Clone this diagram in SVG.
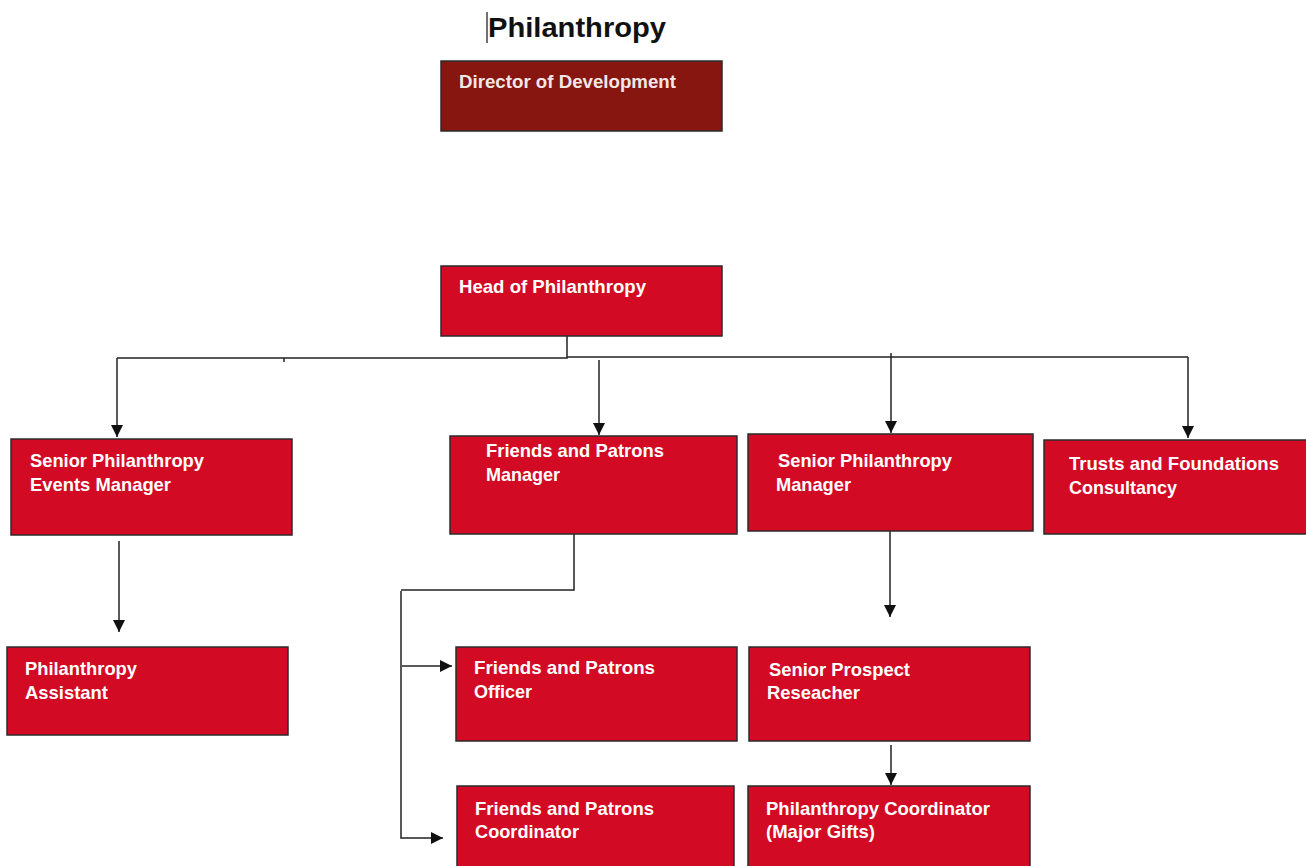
<svg xmlns="http://www.w3.org/2000/svg" width="1306" height="866" viewBox="0 0 1306 866">
  <style>
    .box { fill: #d30a24; stroke: #2b2b2b; stroke-width: 1.5; }
    .dir { fill: #86160f; stroke: #2b2b2b; stroke-width: 1.5; }
    .lbl { font-family: "Liberation Sans", Arial, sans-serif; font-weight: bold; font-size: 19px; fill: #ffffff; }
    .title { font-family: "Liberation Sans", Arial, sans-serif; font-weight: bold; font-size: 28px; fill: #111111; }
    .wire { fill: none; stroke: #222222; stroke-width: 1.5; }
  </style>
  <defs>
    <marker id="arrow" viewBox="0 0 10 10" refX="10" refY="5" markerWidth="8" markerHeight="8" markerUnits="userSpaceOnUse" orient="auto">
      <path d="M0,0 L10,5 L0,10 Z" fill="#111111"/>
    </marker>
    <marker id="arrowL" viewBox="0 0 10 10" refX="10" refY="5" markerWidth="13" markerHeight="12" markerUnits="userSpaceOnUse" orient="auto">
      <path d="M0,0 L10,5 L0,10 Z" fill="#111111"/>
    </marker>
  </defs>
  <rect width="1306" height="866" fill="#ffffff"/>

  <!-- heading -->
  <line x1="487" y1="12" x2="487" y2="43" stroke="#111111" stroke-width="1.2"/>
  <text class="title" x="488" y="37" textLength="178" lengthAdjust="spacingAndGlyphs">Philanthropy</text>

  <!-- reporting lines -->
  <g id="connectors">
    <path class="wire" d="M567,336 V358 H117"/>
    <path class="wire" d="M567,357 H1188"/>
    <line class="wire" x1="284" y1="358" x2="284" y2="362"/>
    <line class="wire" x1="117" y1="358" x2="117" y2="437" marker-end="url(#arrowL)"/>
    <line class="wire" x1="599" y1="360" x2="599" y2="435" marker-end="url(#arrowL)"/>
    <line class="wire" x1="891" y1="353" x2="891" y2="433" marker-end="url(#arrowL)"/>
    <line class="wire" x1="1188" y1="357" x2="1188" y2="438" marker-end="url(#arrowL)"/>
    <line class="wire" x1="119" y1="541" x2="119" y2="632" marker-end="url(#arrowL)"/>
    <path class="wire" d="M574,534 V590 H401"/>
    <path class="wire" d="M401,591 V838 H443" marker-end="url(#arrowL)"/>
    <line class="wire" x1="402" y1="666" x2="452" y2="666" marker-end="url(#arrowL)"/>
    <line class="wire" x1="890" y1="531" x2="890" y2="617" marker-end="url(#arrowL)"/>
    <line class="wire" x1="891" y1="745" x2="891" y2="785" marker-end="url(#arrowL)"/>
  </g>

  <g id="director">
    <rect class="dir" x="441" y="61" width="281" height="70"/>
    <text class="lbl" x="459" y="88" fill="#f3e6e6" style="fill:#f3e6e6" textLength="217" lengthAdjust="spacingAndGlyphs">Director of Development</text>
  </g>

  <g id="head">
    <rect class="box" x="441" y="266" width="281" height="70"/>
    <text class="lbl" x="459" y="293" textLength="187" lengthAdjust="spacingAndGlyphs">Head of Philanthropy</text>
  </g>

  <g id="events-manager">
    <rect class="box" x="11" y="439" width="281" height="96"/>
    <text class="lbl" x="30" y="467" textLength="174" lengthAdjust="spacingAndGlyphs">Senior Philanthropy</text>
    <text class="lbl" x="30" y="491" textLength="141" lengthAdjust="spacingAndGlyphs">Events Manager</text>
  </g>

  <g id="friends-manager">
    <rect class="box" x="450" y="436" width="287" height="98"/>
    <text class="lbl" x="486" y="457" textLength="178" lengthAdjust="spacingAndGlyphs">Friends and Patrons</text>
    <text class="lbl" x="486" y="481" textLength="74" lengthAdjust="spacingAndGlyphs">Manager</text>
  </g>

  <g id="senior-manager">
    <rect class="box" x="748" y="434" width="285" height="97"/>
    <text class="lbl" x="778" y="467" textLength="174" lengthAdjust="spacingAndGlyphs">Senior Philanthropy</text>
    <text class="lbl" x="776" y="491" textLength="75" lengthAdjust="spacingAndGlyphs">Manager</text>
  </g>

  <g id="trusts">
    <rect class="box" x="1044" y="440" width="266" height="94"/>
    <text class="lbl" x="1069" y="470" textLength="210" lengthAdjust="spacingAndGlyphs">Trusts  and Foundations</text>
    <text class="lbl" x="1069" y="494" textLength="108" lengthAdjust="spacingAndGlyphs">Consultancy</text>
  </g>

  <g id="assistant">
    <rect class="box" x="7" y="647" width="281" height="88"/>
    <text class="lbl" x="25" y="675" textLength="112" lengthAdjust="spacingAndGlyphs">Philanthropy</text>
    <text class="lbl" x="25" y="699" textLength="83" lengthAdjust="spacingAndGlyphs">Assistant</text>
  </g>

  <g id="friends-officer">
    <rect class="box" x="456" y="647" width="281" height="94"/>
    <text class="lbl" x="474" y="674" textLength="181" lengthAdjust="spacingAndGlyphs">Friends and Patrons</text>
    <text class="lbl" x="474" y="698" textLength="58" lengthAdjust="spacingAndGlyphs">Officer</text>
  </g>

  <g id="prospect-researcher">
    <rect class="box" x="749" y="647" width="281" height="94"/>
    <text class="lbl" x="769" y="676" textLength="141" lengthAdjust="spacingAndGlyphs">Senior Prospect</text>
    <text class="lbl" x="767" y="699" textLength="93" lengthAdjust="spacingAndGlyphs">Reseacher</text>
  </g>

  <g id="friends-coordinator">
    <rect class="box" x="457" y="786" width="277" height="90"/>
    <text class="lbl" x="475" y="815" textLength="179" lengthAdjust="spacingAndGlyphs">Friends and Patrons</text>
    <text class="lbl" x="475" y="838" textLength="104" lengthAdjust="spacingAndGlyphs">Coordinator</text>
  </g>

  <g id="major-gifts">
    <rect class="box" x="748" y="786" width="282" height="90"/>
    <text class="lbl" x="766" y="815" textLength="224" lengthAdjust="spacingAndGlyphs">Philanthropy Coordinator</text>
    <text class="lbl" x="766" y="838" textLength="109" lengthAdjust="spacingAndGlyphs">(Major Gifts)</text>
  </g>
</svg>
